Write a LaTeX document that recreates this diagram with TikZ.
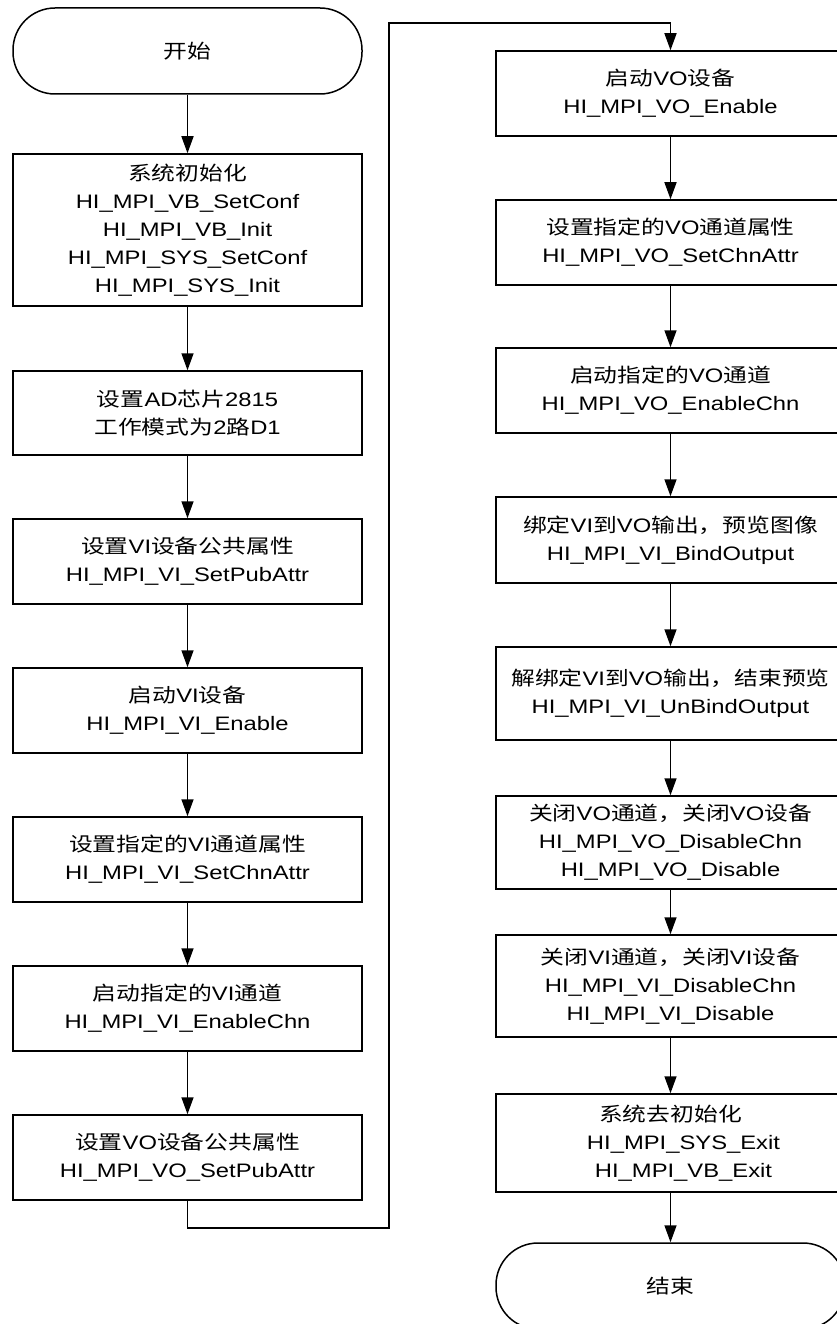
\documentclass[tikz,border=0pt]{standalone}
\usepackage{fontspec}
\setmainfont{Liberation Sans}[FakeStretch=1.22]
\newfontfamily\cjk{Noto Sans CJK SC}[FakeStretch=1.22]
\usetikzlibrary{arrows.meta}
\newcommand\zh[1]{{\cjk #1}}

\begin{document}
\begin{tikzpicture}[x=1pt,y=-1pt,
  every node/.style={font=\fontsize{19.5pt}{28pt}\selectfont, align=center, inner sep=0pt},
  stepbox/.style={draw, line width=1.5pt, minimum width=349pt},
  term/.style={draw, line width=1.5pt, minimum width=349pt, minimum height=86pt, rounded corners=42pt},
  flow/.style={line width=1.5pt, -{Triangle[length=17pt,width=12pt]}},
]
\useasboundingbox (0,0) rectangle (837,1324);
\clip (0,0) rectangle (837,1324);

% left column
\node[term] (start) at (187.5,51) {\zh{开始}};
\node[stepbox, minimum height=152pt] (b1) at (187.5,230)
  {\zh{系统初始化}\\HI\_MPI\_VB\_SetConf\\HI\_MPI\_VB\_Init\\HI\_MPI\_SYS\_SetConf\\HI\_MPI\_SYS\_Init};
\node[stepbox, minimum height=84pt] (b2) at (187.5,413)
  {\zh{设置}AD\zh{芯片}2815\\\zh{工作模式为}2\zh{路}D1};
\node[stepbox, minimum height=85pt] (b3) at (187.5,561.5)
  {\zh{设置}VI\zh{设备公共属性}\\HI\_MPI\_VI\_SetPubAttr};
\node[stepbox, minimum height=85pt] (b4) at (187.5,710.5)
  {\zh{启动}VI\zh{设备}\\HI\_MPI\_VI\_Enable};
\node[stepbox, minimum height=85pt] (b5) at (187.5,859.5)
  {\zh{设置指定的}VI\zh{通道属性}\\HI\_MPI\_VI\_SetChnAttr};
\node[stepbox, minimum height=85pt] (b6) at (187.5,1008.5)
  {\zh{启动指定的}VI\zh{通道}\\HI\_MPI\_VI\_EnableChn};
\node[stepbox, minimum height=85pt] (b7) at (187.5,1157.5)
  {\zh{设置}VO\zh{设备公共属性}\\HI\_MPI\_VO\_SetPubAttr};

% right column
\node[stepbox, minimum height=85pt] (r1) at (670.5,93.5)
  {\zh{启动}VO\zh{设备}\\HI\_MPI\_VO\_Enable};
\node[stepbox, minimum height=85pt] (r2) at (670.5,242.5)
  {\zh{设置指定的}VO\zh{通道属性}\\HI\_MPI\_VO\_SetChnAttr};
\node[stepbox, minimum height=85pt] (r3) at (670.5,390.5)
  {\zh{启动指定的}VO\zh{通道}\\HI\_MPI\_VO\_EnableChn};
\node[stepbox, minimum height=86pt] (r4) at (670.5,540)
  {\zh{绑定}VI\zh{到}VO\zh{输出，预览图像}\\HI\_MPI\_VI\_BindOutput};
\node[stepbox, minimum height=93pt] (r5) at (670.5,693.5)
  {\zh{解绑定}VI\zh{到}VO\zh{输出，结束预览}\\HI\_MPI\_VI\_UnBindOutput};
\node[stepbox, minimum height=93pt] (r6) at (670.5,842.5)
  {\zh{关闭}VO\zh{通道，关闭}VO\zh{设备}\\HI\_MPI\_VO\_DisableChn\\HI\_MPI\_VO\_Disable};
\node[stepbox, minimum height=102pt] (r7) at (670.5,986)
  {\zh{关闭}VI\zh{通道，关闭}VI\zh{设备}\\HI\_MPI\_VI\_DisableChn\\HI\_MPI\_VI\_Disable};
\node[stepbox, minimum height=98pt] (r8) at (670.5,1143)
  {\zh{系统去初始化}\\\hspace*{26pt}HI\_MPI\_SYS\_Exit\\\hspace*{26pt}HI\_MPI\_VB\_Exit};
\node[term] (end) at (670.5,1286) {\zh{结束}};

% connectors
\draw[flow] (start) -- (b1);
\draw[flow] (b1) -- (b2);
\draw[flow] (b2) -- (b3);
\draw[flow] (b3) -- (b4);
\draw[flow] (b4) -- (b5);
\draw[flow] (b5) -- (b6);
\draw[flow] (b6) -- (b7);

\coordinate (c1) at (187.5,1228);
\coordinate (c2) at (389,1228);
\coordinate (c3) at (389,23);
\coordinate (c4) at (670.5,23);
\draw[flow] (b7.south) -- (c1) -- (c2) -- (c3) -- (c4) -- (r1.north);

\draw[flow] (r1) -- (r2);
\draw[flow] (r2) -- (r3);
\draw[flow] (r3) -- (r4);
\draw[flow] (r4) -- (r5);
\draw[flow] (r5) -- (r6);
\draw[flow] (r6) -- (r7);
\draw[flow] (r7) -- (r8);
\draw[flow] (r8) -- (end);
\end{tikzpicture}
\end{document}
